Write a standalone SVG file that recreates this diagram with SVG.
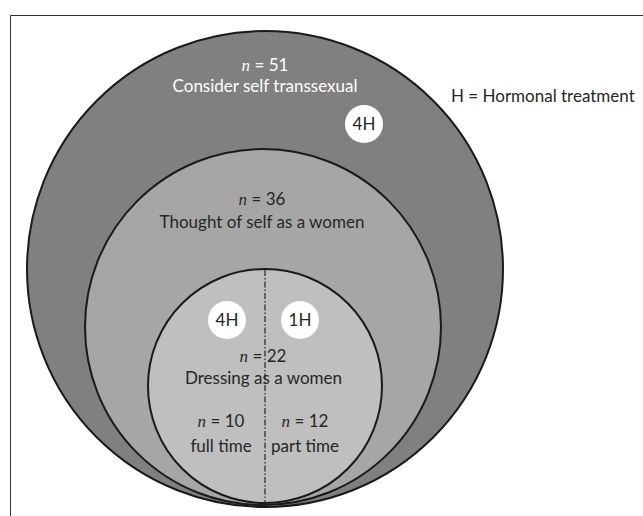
<svg xmlns="http://www.w3.org/2000/svg" width="643" height="516" viewBox="0 0 643 516">
  <style>
    .ring { stroke: #1a1a1a; stroke-width: 2; }
    .lbl { font-family: Lato, "Open Sans", sans-serif; font-size: 17px; text-anchor: middle; fill: #262626; }
    .wht { fill: #ffffff; }
    .n { font-family: "Liberation Serif", serif; font-style: italic; font-size: 17px; }
    .badge { fill: #ffffff; }
    .btxt { font-family: Lato, "Open Sans", sans-serif; font-size: 17px; text-anchor: middle; fill: #262626; }
  </style>
  <rect x="0" y="0" width="643" height="516" fill="#ffffff"/>
  <g id="frame">
    <path d="M10.5 530 V15.5 H660" fill="none" stroke="#333333" stroke-width="1"/>
  </g>
  <g id="outer">
    <circle class="ring" cx="265" cy="269" r="238" fill="#808080"/>
    <text class="lbl wht" x="265" y="71"><tspan class="n">n</tspan> = 51</text>
    <text class="lbl wht" x="265" y="92">Consider self transsexual</text>
  </g>
  <g id="badge-outer">
    <circle class="badge" cx="364" cy="124" r="19"/>
    <text class="btxt" x="364" y="130">4H</text>
  </g>
  <g id="legend">
    <text class="lbl" x="451" y="102" style="text-anchor:start">H = Hormonal treatment</text>
  </g>
  <g id="middle">
    <circle class="ring" cx="263" cy="327" r="178" fill="#a6a6a6"/>
    <text class="lbl" x="262" y="205"><tspan class="n">n</tspan> = 36</text>
    <text class="lbl" x="262" y="228">Thought of self as a women</text>
  </g>
  <g id="inner">
    <circle class="ring" cx="265" cy="386" r="117" fill="#bfbfbf"/>
  </g>
  <g id="connectors">
    <line x1="265" y1="270" x2="265" y2="503" stroke="#262626" stroke-width="1.2" stroke-dasharray="6 2 1.5 2"/>
  </g>
  <g id="inner-labels">
    <text class="lbl" x="263" y="362"><tspan class="n">n</tspan> = 22</text>
    <text class="lbl" x="263.5" y="384">Dressing as a women</text>
    <text class="lbl" x="221" y="427"><tspan class="n">n</tspan> = 10</text>
    <text class="lbl" x="221" y="452">full time</text>
    <text class="lbl" x="305" y="427"><tspan class="n">n</tspan> = 12</text>
    <text class="lbl" x="305" y="452">part time</text>
  </g>
  <g id="badge-full">
    <circle class="badge" cx="227" cy="320" r="19"/>
    <text class="btxt" x="227" y="326">4H</text>
  </g>
  <g id="badge-part">
    <circle class="badge" cx="300" cy="320" r="19"/>
    <text class="btxt" x="300" y="326">1H</text>
  </g>
</svg>
